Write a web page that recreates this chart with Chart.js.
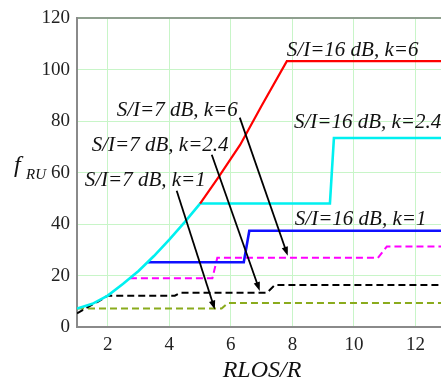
<!DOCTYPE html>
<html>
<head>
<meta charset="utf-8">
<script src="https://cdn.jsdelivr.net/npm/chart.js@4"></script>
<style>
html,body{margin:0;padding:0;background:#fff;}
#wrap{width:441px;height:386px;}
</style>
</head>
<body>
<div id="wrap"><canvas id="c" width="441" height="386"></canvas></div>
<script>
// ---- data ----
const xTicks = [2, 4, 6, 8, 10, 12];
const yTicks = [0, 20, 40, 60, 80, 100, 120];

const cyanX = [1, 1.5, 2, 2.5, 3, 3.5, 4, 4.5, 5, 9.22, 9.35, 12.9];
const cyanY = [7.2, 9.0, 12.2, 16.8, 21.8, 27.6, 34, 40.8, 48, 48, 73.5, 73.5];

const redX = [5, 5.6, 6.3, 7, 7.82, 12.9];
const redY = [48, 58.3, 70.8, 86, 103.4, 103.4];

const blueX = [3.3, 6.42, 6.6, 12.9];
const blueY = [25.2, 25.2, 37.4, 37.4];

const magentaX = [2.72, 5.4, 5.56, 10.78, 11.07, 12.9];
const magentaY = [19, 19, 26.9, 26.9, 31.3, 31.3];

const blackX = [1, 1.3, 1.7, 2, 4.18, 4.35, 7.17, 7.43, 12.9];
const blackY = [5.3, 7.4, 10, 12.2, 12.2, 13.3, 13.3, 16.3, 16.3];

const greenX = [1, 5.7, 5.9, 12.9];
const greenY = [7.2, 7.2, 9.3, 9.3];

const labelTexts = ["S/I=16 dB, k=6", "S/I=16 dB, k=2.4", "S/I=16 dB, k=1", "S/I=7 dB, k=6", "S/I=7 dB, k=2.4", "S/I=7 dB, k=1"];
const labelX = [7.82, 8.05, 8.08, 2.29, 1.48, 1.25];
const labelY = [105.3, 77.3, 39.8, 82.2, 68.6, 54.9];

const arrowFromX = [6.29, 5.38, 4.24];
const arrowFromY = [81.4, 67.0, 53.0];
const arrowToX = [7.85, 6.94, 5.48];
const arrowToY = [27.7, 14.0, 6.8];

function pts(xs, ys){ return xs.map((x,i)=>({x:x, y:ys[i]})); }

const annot = {
  id:'annot',
  afterDatasetsDraw(chart){
    const ctx = chart.ctx, xs = chart.scales.x, ys = chart.scales.y;
    ctx.save();
    // arrows
    ctx.strokeStyle = '#000'; ctx.fillStyle = '#000'; ctx.lineWidth = 1.8;
    for (let i=0;i<arrowFromX.length;i++){
      const x1 = xs.getPixelForValue(arrowFromX[i]), y1 = ys.getPixelForValue(arrowFromY[i]);
      const x2 = xs.getPixelForValue(arrowToX[i]), y2 = ys.getPixelForValue(arrowToY[i]);
      const a = Math.atan2(y2-y1, x2-x1), L = 9, W = 3.2;
      ctx.beginPath(); ctx.moveTo(x1,y1); ctx.lineTo(x2 - L*0.7*Math.cos(a), y2 - L*0.7*Math.sin(a)); ctx.stroke();
      ctx.beginPath();
      ctx.moveTo(x2,y2);
      ctx.lineTo(x2 - L*Math.cos(a) + W*Math.sin(a), y2 - L*Math.sin(a) - W*Math.cos(a));
      ctx.lineTo(x2 - L*Math.cos(a) - W*Math.sin(a), y2 - L*Math.sin(a) + W*Math.cos(a));
      ctx.closePath(); ctx.fill();
    }
    // curve labels
    ctx.fillStyle = '#111';
    ctx.font = 'italic 21px "Liberation Serif", "DejaVu Serif", serif';
    ctx.textAlign = 'left'; ctx.textBaseline = 'alphabetic';
    for (let i=0;i<labelTexts.length;i++){
      ctx.fillText(labelTexts[i], xs.getPixelForValue(labelX[i]), ys.getPixelForValue(labelY[i]));
    }
    // axis titles
    ctx.font = 'italic 24px "Liberation Serif", serif';
    ctx.textAlign = 'center';
    ctx.fillText('RLOS/R', 262, 377);
    ctx.textAlign = 'left';
    ctx.fillText('f', 14, 172);
    ctx.font = 'italic 15px "Liberation Serif", serif';
    ctx.fillText('RU', 26, 179);
    ctx.restore();
  }
};

const common = {pointRadius:0, fill:false, tension:0};
new Chart(document.getElementById('c'), {
  type:'line',
  data:{
    datasets:[
      Object.assign({data:pts(cyanX,cyanY), borderColor:'#00f0f0', borderWidth:2.6, order:1}, common),
      Object.assign({data:pts(redX,redY), borderColor:'#ff0000', borderWidth:2.2, order:0}, common),
      Object.assign({data:pts(blueX,blueY), borderColor:'#1010ff', borderWidth:2.6, order:2}, common),
      Object.assign({data:pts(magentaX,magentaY), borderColor:'#ff00ff', borderWidth:2, borderDash:[7,4], order:3}, common),
      Object.assign({data:pts(blackX,blackY), borderColor:'#000000', borderWidth:2, borderDash:[7,4], order:4}, common),
      Object.assign({data:pts(greenX,greenY), borderColor:'#8aab1c', borderWidth:2, borderDash:[7,4], order:5}, common)
    ]
  },
  options:{
    responsive:false, animation:false,
    layout:{padding:{top:10, right:0, left:0, bottom:0}},
    plugins:{legend:{display:false}, tooltip:{enabled:false}},
    scales:{
      x:{
        type:'linear', min:1, max:12.83,
        afterBuildTicks(s){ s.ticks = xTicks.map(v=>({value:v})); },
        afterFit(s){ s.height = 59; },
        grid:{color:'#c8f5c8', lineWidth:1, drawTicks:false},
        border:{color:'#8a8a8a', width:2},
        ticks:{font:{family:'"Liberation Serif", serif', size:19}, color:'#222', padding:7, maxRotation:0}
      },
      y:{
        type:'linear', min:0, max:120,
        afterBuildTicks(s){ s.ticks = yTicks.map(v=>({value:v})); },
        afterFit(s){ s.width = 77; },
        grid:{color:(c)=> c.tick && c.tick.value===120 ? '#8fa08f' : '#c8f5c8', lineWidth:(c)=> c.tick && c.tick.value===120 ? 2 : 1, drawTicks:false},
        border:{color:'#8a8a8a', width:2},
        ticks:{font:{family:'"Liberation Serif", serif', size:19}, color:'#222', padding:7}
      }
    }
  },
  plugins:[annot]
});
</script>
</body>
</html>
